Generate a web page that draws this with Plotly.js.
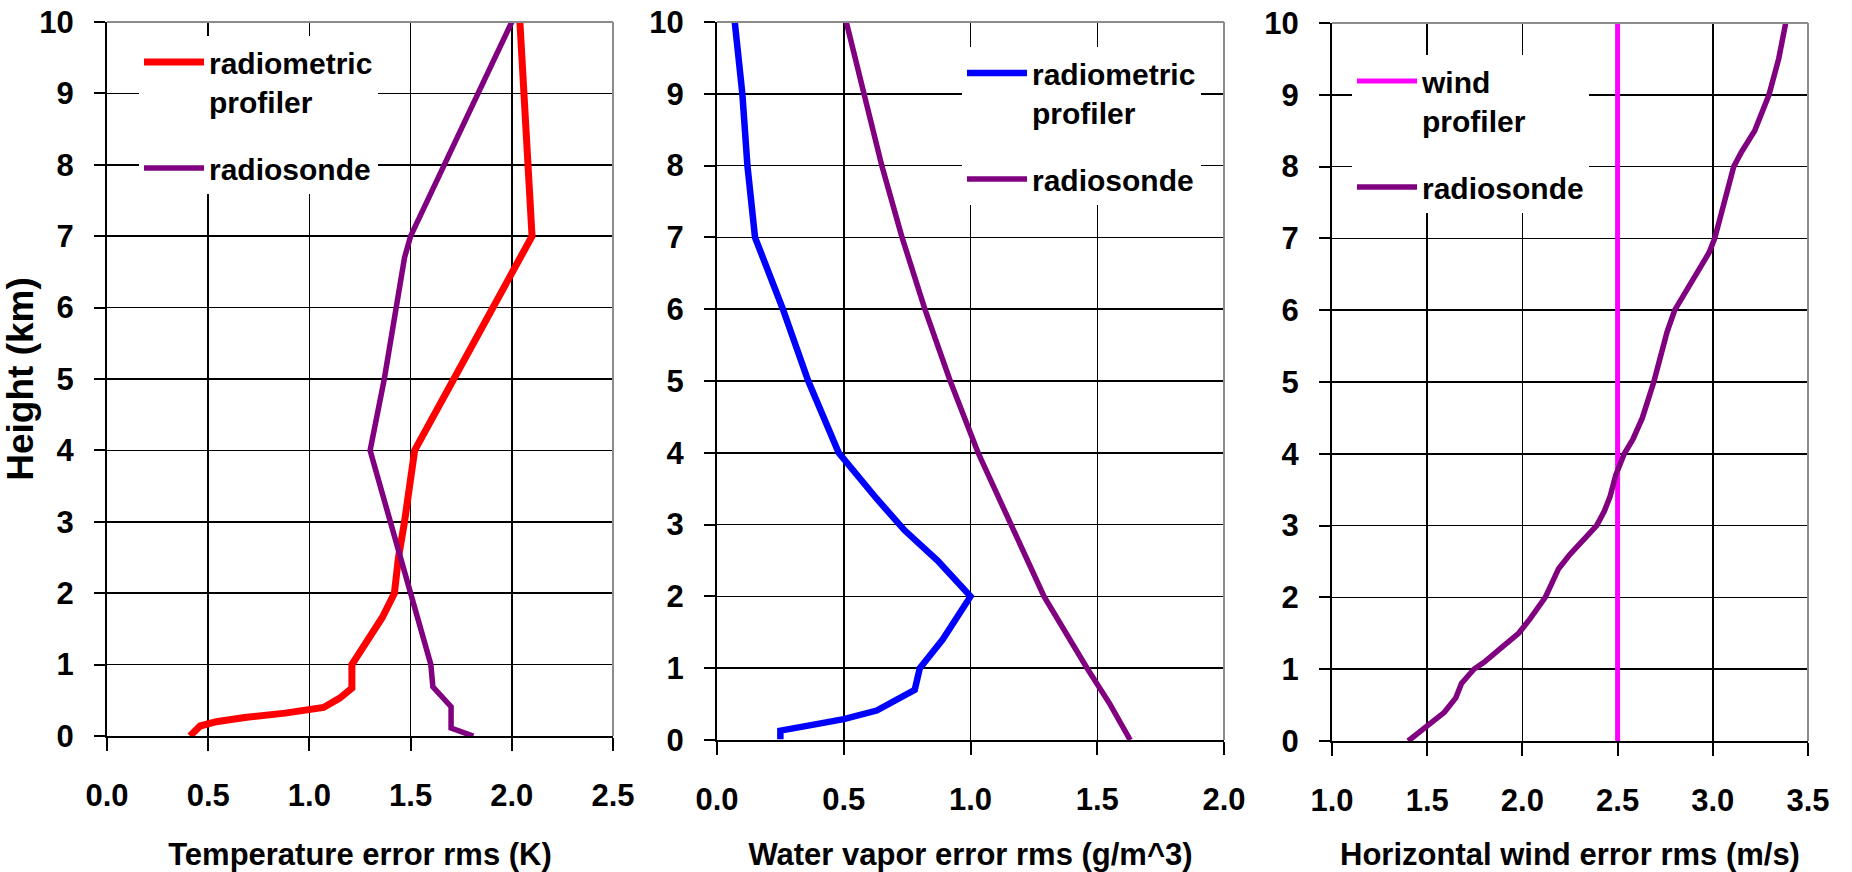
<!DOCTYPE html>
<html>
<head>
<meta charset="utf-8">
<script src="https://cdn.plot.ly/plotly-3.0.1.min.js"></script>
<style>
html, body { margin: 0; padding: 0; background: #ffffff; }
#chart { width: 1852px; height: 872px; }
</style>
</head>
<body>
<div id="chart"></div>
<script>
// ---------- Panel 1: temperature error rms (K) ----------
const tempRadiometricX = [0.41, 0.46, 0.54, 0.68, 0.88, 1.00, 1.07, 1.15, 1.21, 1.21, 1.29, 1.36, 1.42, 1.44, 1.47, 1.50, 1.52, 2.10, 2.04];
const tempRadiometricY = [0.00, 0.14, 0.20, 0.26, 0.32, 0.38, 0.40, 0.53, 0.67, 1.00, 1.35, 1.66, 2.00, 2.50, 3.00, 3.65, 4.00, 7.00, 10.0];
const tempRadiosondeX  = [1.81, 1.70, 1.70, 1.61, 1.60, 1.50, 1.30, 1.37, 1.43, 1.47, 1.50, 2.00];
const tempRadiosondeY  = [0.00, 0.11, 0.41, 0.69, 1.00, 2.00, 4.00, 5.00, 6.00, 6.70, 7.00, 10.0];

// ---------- Panel 2: water vapor error rms (g/m^3) ----------
const wvRadiometricX = [0.25, 0.25, 0.36, 0.50, 0.63, 0.78, 0.80, 0.89, 1.00, 0.87, 0.74, 0.63, 0.48, 0.36, 0.26, 0.15, 0.12, 0.10, 0.07];
const wvRadiometricY = [0.01, 0.13, 0.20, 0.29, 0.41, 0.70, 1.00, 1.40, 2.00, 2.50, 2.92, 3.36, 4.00, 5.00, 6.00, 7.00, 8.00, 9.00, 10.0];
const wvRadiosondeX  = [1.63, 1.55, 1.46, 1.29, 1.16, 1.03, 0.92, 0.82, 0.73, 0.65, 0.58, 0.51];
const wvRadiosondeY  = [0.0, 0.5, 1, 2, 3, 4, 5, 6, 7, 8, 9, 10];

// ---------- Panel 3: horizontal wind error rms (m/s) ----------
const windProfilerX = [2.5, 2.5];
const windProfilerY = [0, 10];
const windRadiosondeY = [0, 0.2, 0.4, 0.6, 0.8, 1.0, 1.1, 1.3, 1.5, 1.7, 1.9, 2.0, 2.2, 2.4, 2.6, 2.8, 3.0, 3.2, 3.4, 3.7, 4.0, 4.2, 4.5, 5.0, 5.5, 5.7, 6.0, 6.2, 6.5, 6.8, 7.0, 7.5, 7.8, 8.0, 8.2, 8.5, 9.0, 9.5, 10];
const windRadiosondeX = [1.40, 1.50, 1.59, 1.65, 1.68, 1.745, 1.80, 1.89, 1.98, 2.04, 2.09, 2.12, 2.155, 2.19, 2.25, 2.32, 2.39, 2.43, 2.46, 2.49, 2.535, 2.58, 2.63, 2.69, 2.74, 2.76, 2.80, 2.843, 2.915, 2.98, 3.01, 3.06, 3.09, 3.11, 3.15, 3.22, 3.295, 3.346, 3.383];

// ---------- Labels ----------
const seriesNames = {
  radiometric: 'radiometric<br>profiler',
  radiosonde: 'radiosonde',
  wind: 'wind<br>profiler'
};
const xTitles = ['Temperature error rms (K)', 'Water vapor error rms (g/m^3)', 'Horizontal wind error rms (m/s)'];
const yTitle = 'Height (km)';
const xRanges = [[0, 2.5], [0, 2.0], [1.0, 3.5]];

const FONT = 'Liberation Sans, Arial, Helvetica, sans-serif';
const W = 1852, H = 872;

function line(x, y, name, color, width, xa, ya, legend, group) {
  return {
    type: 'scatter', mode: 'lines', x: x, y: y, name: name,
    xaxis: xa, yaxis: ya, legend: legend, legendgroup: group,
    line: { color: color, width: width },
    hoverinfo: 'skip'
  };
}

const traces = [
  line(tempRadiometricX, tempRadiometricY, seriesNames.radiometric, '#ff0000', 7, 'x', 'y', 'legend', 'a'),
  line(tempRadiosondeX, tempRadiosondeY, seriesNames.radiosonde, '#800080', 5.5, 'x', 'y', 'legend', 'b'),
  line(wvRadiometricX, wvRadiometricY, seriesNames.radiometric, '#0000ff', 6.5, 'x2', 'y2', 'legend2', 'c'),
  line(wvRadiosondeX, wvRadiosondeY, seriesNames.radiosonde, '#800080', 5.5, 'x2', 'y2', 'legend2', 'd'),
  line(windProfilerX, windProfilerY, seriesNames.wind, '#ff00ff', 5, 'x3', 'y3', 'legend3', 'e'),
  line(windRadiosondeX, windRadiosondeY, seriesNames.radiosonde, '#800080', 5.5, 'x3', 'y3', 'legend3', 'f')
];

const tickFont = { family: FONT, size: 31, color: '#000', weight: 'bold' };

function xAxis(i, px0, px1, anchor) {
  return {
    domain: [px0 / W, px1 / W], anchor: anchor,
    range: xRanges[i], tick0: xRanges[i][0], dtick: 0.5, tickformat: '.1f',
    showgrid: true, gridcolor: '#000', gridwidth: 1.5,
    showline: true, linecolor: '#000', linewidth: 2,
    ticks: 'outside', ticklen: 13, tickwidth: 2, tickcolor: '#000',
    tickfont: tickFont, ticklabelstandoff: 18,
    zeroline: false, fixedrange: true,
    title: { text: xTitles[i], font: { family: FONT, size: 31, color: '#000', weight: 'bold' }, standoff: 34 }
  };
}
function yAxis(py0, py1, anchor, withTitle) {
  const a = {
    domain: [(H - py0) / H, (H - py1) / H], anchor: anchor,
    range: [0, 10], tick0: 0, dtick: 1,
    showgrid: true, gridcolor: '#000', gridwidth: 1.5,
    showline: true, linecolor: '#000', linewidth: 2,
    ticks: 'outside', ticklen: 11, tickwidth: 2, tickcolor: '#000',
    tickfont: tickFont, ticklabelstandoff: 14,
    zeroline: false, fixedrange: true
  };
  if (withTitle) {
    a.title = { text: yTitle, font: { family: FONT, size: 37, color: '#000', weight: 'bold' }, standoff: 0 };
  }
  return a;
}

function border(xa, ya) {
  const s = { type: 'line', xref: xa + ' domain', yref: ya + ' domain', line: { color: '#8c8c8c', width: 2 }, layer: 'above' };
  return [
    Object.assign({}, s, { x0: 0, x1: 1, y0: 1, y1: 1 }),
    Object.assign({}, s, { x0: 1, x1: 1, y0: 0, y1: 1 })
  ];
}

function legendBox(px, py) {
  return {
    x: px / W, y: 1 - py / H, xanchor: 'left', yanchor: 'top',
    bgcolor: '#ffffff', borderwidth: 0,
    font: { family: FONT, size: 30, color: '#000', weight: 'bold' },
    valign: 'top', traceorder: 'grouped', tracegroupgap: 25, itemwidth: 60
  };
}

const layout = {
  width: W, height: H,
  margin: { l: 0, r: 0, t: 0, b: 0 },
  paper_bgcolor: '#ffffff', plot_bgcolor: '#ffffff',
  showlegend: true,
  xaxis: xAxis(0, 107, 613, 'y'),
  yaxis: yAxis(736, 22, 'x', true),
  xaxis2: xAxis(1, 717, 1224, 'y2'),
  yaxis2: yAxis(740, 22, 'x2', false),
  xaxis3: xAxis(2, 1332, 1808, 'y3'),
  yaxis3: yAxis(741, 23, 'x3', false),
  legend: legendBox(139, 36),
  legend2: legendBox(962, 47),
  legend3: legendBox(1352, 55),
  shapes: [].concat(border('x', 'y'), border('x2', 'y2'), border('x3', 'y3'))
};

Plotly.newPlot('chart', traces, layout, { staticPlot: true, displayModeBar: false });
</script>
</body>
</html>
